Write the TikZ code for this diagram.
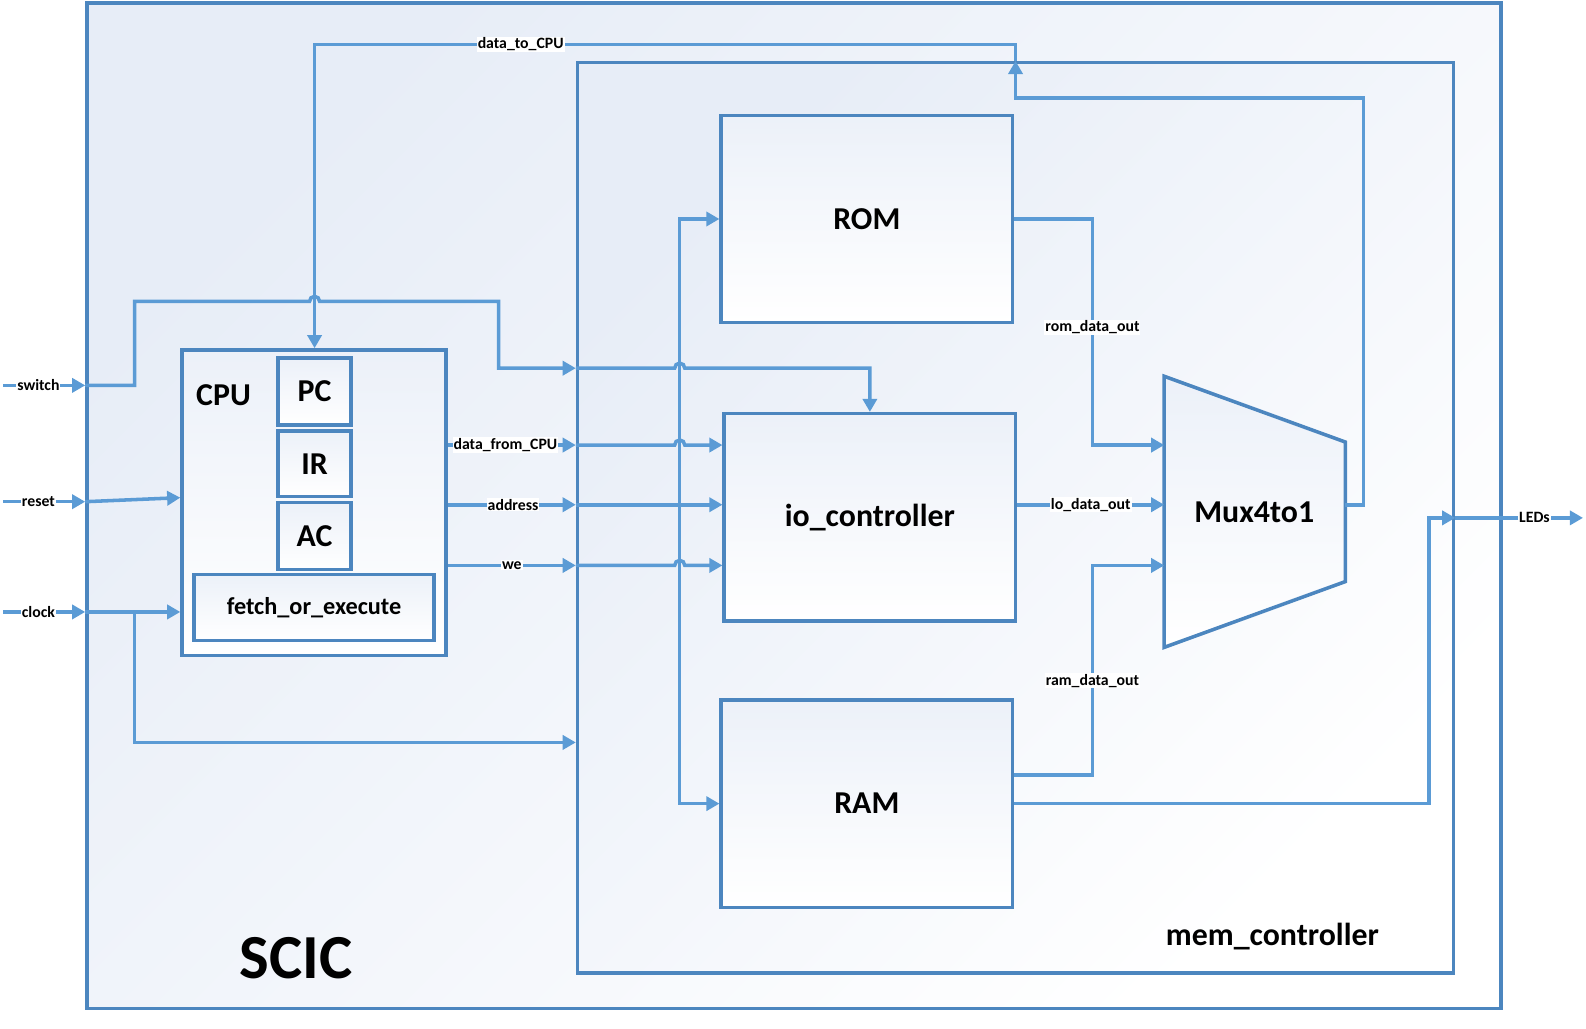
\documentclass[tikz,border=0pt]{standalone}
\usepackage{fontspec}
\setmainfont{Carlito}
\usetikzlibrary{arrows.meta,positioning}
\definecolor{wireblue}{RGB}{91,155,213}
\definecolor{boxblue}{RGB}{76,134,191}
\definecolor{shadeblue}{RGB}{231,237,247}
\tikzset{
  blk/.style={draw=boxblue, line width=3.5pt, inner sep=0pt, top color=shadeblue, middle color=shadeblue!40, bottom color=white, shading angle=45},
  inblk/.style={blk, top color=shadeblue!80, middle color=white, bottom color=white},
  wire/.style={draw=wireblue, line width=3.5pt},
  arr/.style={wire, -{Triangle[length=13pt,width=14pt]}},
  sig/.style={fill=white, inner sep=1pt, font=\fontsize{15.6}{15.6}\selectfont\bfseries},
  big/.style={font=\fontsize{31.5}{31.5}\selectfont\bfseries},
}
\begin{document}
\begin{tikzpicture}[x=1pt, y=-1pt]
\useasboundingbox (0,0) rectangle (1568,1017);
% boxes
\node[blk, minimum width=1398pt, minimum height=994pt] (scic) at (785,500) {};
\node[blk, minimum width=866pt, minimum height=900pt] (mem) at (1004,512) {};
\node[inblk, minimum width=288pt, minimum height=205pt, big] (rom) at (857,216.5) {ROM};
\node[inblk, minimum width=288pt, minimum height=205pt, big] (io) at (860,511.5) {io\_controller};
\node[inblk, minimum width=288pt, minimum height=205pt, big] (ram) at (857,794.5) {RAM};
\node[inblk, minimum width=261pt, minimum height=302pt] (cpu) at (310.5,497) {};
\node[inblk, minimum width=72pt, minimum height=66pt, big] (pc) at (311,387) {PC};
\node[inblk, minimum width=72pt, minimum height=65pt, big] (ir) at (311,458.5) {IR};
\node[inblk, minimum width=72pt, minimum height=66pt, big] (ac) at (311,530) {AC};
\node[inblk, minimum width=237pt, minimum height=65pt, font=\fontsize{24}{24}\selectfont\bfseries] (fetch) at (310.5,600.5) {fetch\_or\_execute};
\node[big] (cpul) at (221,391) {CPU};
\node[font=\fontsize{62}{62}\selectfont\bfseries] (scicl) at (293,947) {SCIC};
\node[big] (meml) at (1258,926) {mem\_controller};
\draw[inblk] (1151,372) -- (1330,437) -- (1330,575) -- (1151,640) -- cycle;
\node[big] (mux) at (1240,506) {Mux4to1};
% ports
\coordinate (switchin) at (3,381);
\coordinate (resetin) at (3,496);
\coordinate (clockin) at (3,605);
\coordinate (ledout) at (1565,512);
\coordinate (ydfc) at (0,440);
\coordinate (yaddr) at (0,499);
\coordinate (ywe) at (0,559);
\coordinate (yled) at (0,512);
\coordinate (abus) at (672,499);
\coordinate (muxin1) at (1151,440);
\coordinate (muxin2) at (1151,499);
\coordinate (muxin3) at (1151,559);
\coordinate (muxout) at (1330,499);
% inputs
\draw[arr] (switchin) -- node[sig, pos=.43]{switch} (scic.west |- switchin);
\draw[arr] (resetin) -- node[sig, pos=.43]{reset} (scic.west |- resetin);
\draw[arr] (clockin) -- node[sig, pos=.43]{clock} (scic.west |- clockin);
\draw[arr] (scic.west |- switchin) -- (133,381) -- (133,298) -- (306,298)
  arc[start angle=180, end angle=0, radius=5pt] -- (493,298) -- (493,364) -- (mem.west |- 0,364);
\draw[arr] (mem.west |- 0,364) -- (667,364) arc[start angle=180, end angle=0, radius=5pt]
  -- (io.north |- 0,364) -- (io.north);
\draw[arr] (scic.west |- resetin) -- ([yshift=5pt]cpu.west);
\draw[arr] (scic.west |- clockin) -- (cpu.west |- clockin);
\draw[arr] (133,605) -- (133,734) -- (mem.west |- 0,734);
% cpu outputs
\draw[arr] (cpu.east |- ydfc) -- node[sig, pos=.45]{data\_from\_CPU} (mem.west |- ydfc);
\draw[arr] (cpu.east |- yaddr) -- node[sig, pos=.51]{address} (mem.west |- yaddr);
\draw[arr] (cpu.east |- ywe) -- node[sig, pos=.5]{we} (mem.west |- ywe);
\draw[arr] (mem.west |- ydfc) -- (667,440) arc[start angle=180, end angle=0, radius=5pt] -- (io.west |- ydfc);
\draw[arr] (mem.west |- yaddr) -- (io.west |- yaddr);
\draw[arr] (mem.west |- ywe) -- (667,559) arc[start angle=180, end angle=0, radius=5pt] -- (io.west |- ywe);
\draw[arr] (abus) |- (rom.west);
\draw[arr] (abus) |- (ram.west);
% memory outputs
\draw[arr] (rom.east) -- (1080,216.5) -- node[sig, pos=.48]{rom\_data\_out} (1080,440) -- (muxin1);
\draw[arr] (io.east |- muxin2) -- node[sig]{lo\_data\_out} (muxin2);
\draw[arr] ([yshift=28.5pt]ram.east) -- (1080,766) -- node[sig, pos=.45]{ram\_data\_out} (1080,559) -- (muxin3);
\draw[arr] (ram.east) -- (1413,794.5) |- (mem.east |- yled);
\draw[arr] (mem.east |- yled) -- node[sig, pos=.62]{LEDs} (ledout);
% data back to cpu
\draw[arr] (muxout) -- (1348,499) -- (1348,97) -- (mem.north |- 0,97) -- (mem.north);
\draw[arr] (mem.north) -- (mem.north |- 0,44) -- node[sig, pos=.706]{data\_to\_CPU} (pc.north |- 0,44)
  -- (cpu.north -| pc.north);
\end{tikzpicture}
\end{document}
